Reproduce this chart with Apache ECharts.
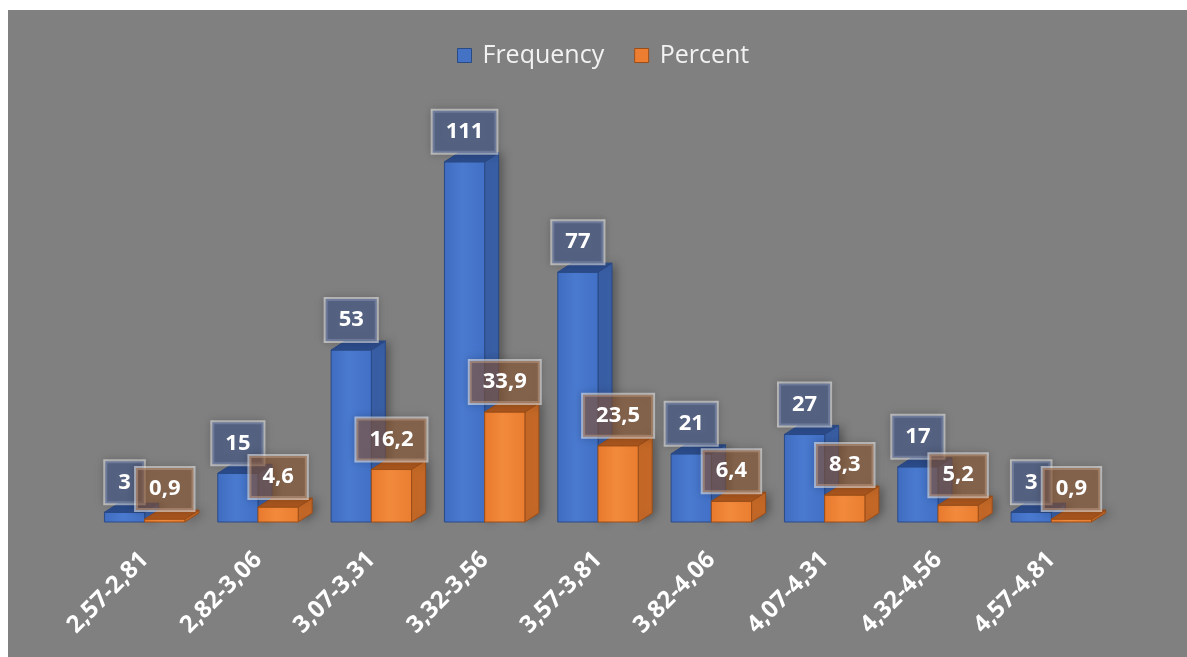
<!DOCTYPE html>
<html>
<head>
<meta charset="utf-8">
<script src="https://cdn.jsdelivr.net/npm/echarts@6/dist/echarts.min.js"></script>
<style>
html,body{margin:0;padding:0;background:#ffffff;}
#chart{position:absolute;left:8px;top:10px;width:1179px;height:647px;}
</style>
</head>
<body>
<div id="chart"></div>
<script>
const categories = ['2,57-2,81','2,82-3,06','3,07-3,31','3,32-3,56','3,57-3,81','3,82-4,06','4,07-4,31','4,32-4,56','4,57-4,81'];
const frequency = [3, 15, 53, 111, 77, 21, 27, 17, 3];
const percent = [0.9, 4.6, 16.2, 33.9, 23.5, 6.4, 8.3, 5.2, 0.9];
const seriesNames = ['Frequency', 'Percent'];

const DX = 14, DY = 9;

const styles = {
  Frequency: {
    front: {type:'linear',x:0,y:0,x2:1,y2:0,colorStops:[{offset:0,color:'#3f6cc0'},{offset:0.45,color:'#4a7ad0'},{offset:1,color:'#4170c6'}]},
    side: '#3a60a8', top: '#2c4c8c', stroke: '#2a4a86',
    boxFill: 'rgba(70,90,140,0.62)'
  },
  Percent: {
    front: {type:'linear',x:0,y:0,x2:1,y2:0,colorStops:[{offset:0,color:'#e8792c'},{offset:0.45,color:'#f28a3c'},{offset:1,color:'#ea7d30'}]},
    side: '#c86a28', top: '#a9561e', stroke: '#9c4e18',
    boxFill: 'rgba(150,90,50,0.55)'
  }
};

function fmt(name, v) {
  return name === 'Percent' ? v.toFixed(1).replace('.', ',') : String(v);
}

function makeRender(name, side) {
  const st = styles[name];
  return function (params, api) {
    const i = api.value(0), v = api.value(1);
    const topPt = api.coord([i, v]);
    const basePt = api.coord([i, 0]);
    const band = api.size([1, 0])[0];
    const w = band * 0.355;
    const cx = topPt[0];
    const x0 = side < 0 ? cx - w : cx;
    const x1 = x0 + w;
    const yT = topPt[1], yB = basePt[1];
    const lineStyle = {stroke: st.stroke, lineWidth: 1};
    return {
      type: 'group',
      children: [
        {type:'polygon', shape:{points:[[x1,yT],[x1+DX,yT-DY],[x1+DX,yB-DY],[x1,yB]]},
          style:Object.assign({fill: st.side, shadowBlur: 10, shadowColor: 'rgba(0,0,0,0.35)', shadowOffsetX: 3}, lineStyle)},
        {type:'rect', shape:{x:x0, y:yT, width:w, height:yB-yT},
          style:Object.assign({fill: st.front}, lineStyle)},
        {type:'polygon', shape:{points:[[x0,yT],[x0+DX,yT-DY],[x1+DX,yT-DY],[x1,yT]]},
          style:Object.assign({fill: st.top}, lineStyle)},
        {type:'text', x:(x0+x1)/2, y:yT-DY,
          style:{text: fmt(name, v), fill:'#ffffff', font:'bold 22px "Open Sans"',
            align:'center', verticalAlign:'bottom', lineHeight:26,
            backgroundColor: st.boxFill, borderColor:'rgba(235,235,235,0.6)', borderWidth:2,
            padding:[8,13], shadowBlur: 8, shadowColor:'rgba(0,0,0,0.25)'}}
      ]
    };
  };
}

const chart = echarts.init(document.getElementById('chart'));
chart.setOption({
  backgroundColor: '#808080',
  animation: false,
  legend: {
    left: 449, top: 33, padding: 0,
    itemWidth: 14, itemHeight: 14, itemGap: 30,
    textStyle: {color:'#f2f2f2', fontSize: 25, fontFamily:'"Open Sans"', padding:[0,0,0,6]},
    data: [
      {name: seriesNames[0], icon:'rect', itemStyle:{color:'#4472c4', borderColor:'#2a4a86', borderWidth:1}},
      {name: seriesNames[1], icon:'rect', itemStyle:{color:'#ed7d31', borderColor:'#9c4e18', borderWidth:1}}
    ]
  },
  grid: {left: 80, top: 122.6, width: 1020, height: 389.4, containLabel: false},
  xAxis: {
    type: 'category', data: categories,
    axisLine: {show:false}, axisTick: {show:false},
    axisLabel: {rotate: 45, color:'#ffffff', fontWeight:'bold', fontSize: 24, fontFamily:'"Open Sans"', margin: 34, interval: 0}
  },
  yAxis: {type:'value', min:0, max:120, show:false, splitLine:{show:false}},
  series: [
    {name: seriesNames[0], type:'custom', renderItem: makeRender(seriesNames[0], -1),
      itemStyle:{color:'#4472c4'}, data: frequency.map((v,i)=>[i,v]), encode:{x:0,y:1}, z:2},
    {name: seriesNames[1], type:'custom', renderItem: makeRender(seriesNames[1], 1),
      itemStyle:{color:'#ed7d31'}, data: percent.map((v,i)=>[i,v]), encode:{x:0,y:1}, z:3}
  ]
});
</script>
</body>
</html>
